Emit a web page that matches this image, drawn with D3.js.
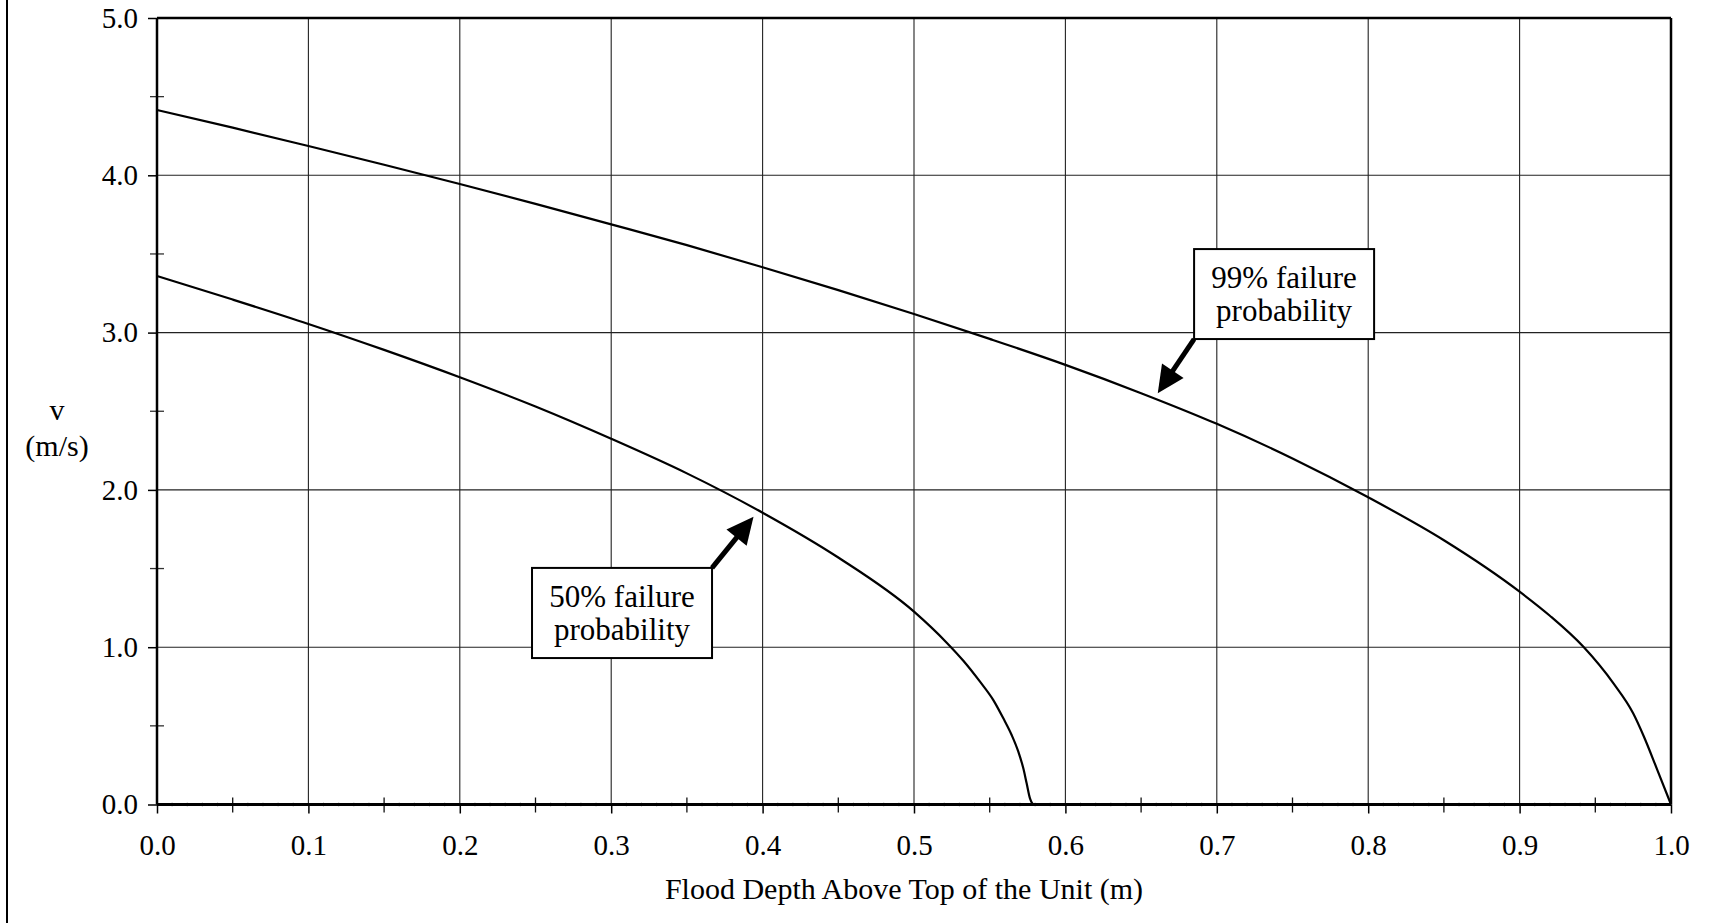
<!DOCTYPE html>
<html>
<head>
<meta charset="utf-8">
<script src="https://cdn.jsdelivr.net/npm/d3@7"></script>
<style>
  body { margin: 0; background: #fff; }
  svg { display: block; font-family: "Liberation Serif", "Times New Roman", serif; }
</style>
</head>
<body>
<svg width="1716" height="923"></svg>
<script>
// 99% failure probability curve
const depth99 = [0, 0.05, 0.1, 0.15, 0.2, 0.25, 0.3, 0.35, 0.4, 0.45, 0.5, 0.55, 0.6, 0.65, 0.7, 0.75, 0.8, 0.85, 0.9, 0.92, 0.942, 0.962, 0.975, 0.982, 0.991, 1.0];
const vel99 = [4.415, 4.303, 4.186, 4.067, 3.945, 3.818, 3.688, 3.556, 3.415, 3.27, 3.118, 2.96, 2.795, 2.615, 2.42, 2.20, 1.953, 1.68, 1.353, 1.20, 1.004, 0.77, 0.58, 0.434, 0.219, 0];

// 50% failure probability curve
const depth50 = [0, 0.05, 0.1, 0.15, 0.2, 0.25, 0.3, 0.35, 0.4, 0.45, 0.5, 0.5216, 0.5326, 0.5436, 0.5524, 0.559, 0.5645, 0.5689, 0.5722, 0.5744, 0.5766, 0.5793, 0.587];
const vel50 = [3.36, 3.21, 3.055, 2.89, 2.716, 2.53, 2.325, 2.105, 1.855, 1.57, 1.226, 1.029, 0.914, 0.781, 0.664, 0.548, 0.442, 0.336, 0.23, 0.135, 0.039, 0, 0];

const xTicks = [0, 0.1, 0.2, 0.3, 0.4, 0.5, 0.6, 0.7, 0.8, 0.9, 1.0];
const yTicks = [0, 1, 2, 3, 4, 5];

const annotations = [
    { lines: ['50% failure', 'probability'], box: [0.2477, 1.504, 0.3666, 0.931], tip: [0.394, 1.83] },
    { lines: ['99% failure', 'probability'], box: [0.6850, 3.531, 0.8039, 2.959], tip: [0.661, 2.615] }
];

const svg = d3.select("svg");
const width = +svg.attr("width");
const height = +svg.attr("height");

const margin = { top: 18, right: 45, bottom: 118.5, left: 157 };
const innerWidth = width - margin.left - margin.right;
const innerHeight = height - margin.top - margin.bottom;

const g = svg.append('g')
    .attr('transform', `translate(${margin.left},${margin.top})`);

const xScale = d3.scaleLinear().domain([0, 1]).range([0, innerWidth]);
const yScale = d3.scaleLinear().domain([0, 5]).range([innerHeight, 0]);

// outer frame line on the left
svg.append('line')
    .attr('x1', 7).attr('x2', 7)
    .attr('y1', 0).attr('y2', height)
    .attr('stroke', '#000').attr('stroke-width', 2);

// gridlines
g.selectAll('.vgrid')
    .data(xTicks.slice(1, -1))
    .enter().append('line')
    .attr('x1', d => xScale(d)).attr('x2', d => xScale(d))
    .attr('y1', 0).attr('y2', innerHeight)
    .attr('stroke', '#222').attr('stroke-width', 1.1);

g.selectAll('.hgrid')
    .data(yTicks.slice(1, -1))
    .enter().append('line')
    .attr('x1', 0).attr('x2', innerWidth)
    .attr('y1', d => yScale(d)).attr('y2', d => yScale(d))
    .attr('stroke', '#222').attr('stroke-width', 1.1);

// tiny ticks every 0.01 on x axis
g.selectAll('.tiny')
    .data(d3.range(1, 100).filter(i => i % 5 !== 0).map(i => i / 100))
    .enter().append('line')
    .attr('x1', d => xScale(d)).attr('x2', d => xScale(d))
    .attr('y1', innerHeight - 2).attr('y2', innerHeight + 2)
    .attr('stroke', '#aaa').attr('stroke-width', 1);

// minor ticks
g.selectAll('.xminor')
    .data(d3.range(0.05, 1, 0.1))
    .enter().append('line')
    .attr('x1', d => xScale(d)).attr('x2', d => xScale(d))
    .attr('y1', innerHeight - 7).attr('y2', innerHeight + 8)
    .attr('stroke', '#111').attr('stroke-width', 1.3);

g.selectAll('.yminor')
    .data(d3.range(0.5, 5, 1))
    .enter().append('line')
    .attr('x1', -7).attr('x2', 7)
    .attr('y1', d => yScale(d)).attr('y2', d => yScale(d))
    .attr('stroke', '#333').attr('stroke-width', 1.3);

// axes
const xAxis = d3.axisBottom(xScale)
    .tickValues(xTicks)
    .tickFormat(d3.format('.1f'))
    .tickSize(9)
    .tickPadding(21);

const yAxis = d3.axisLeft(yScale)
    .tickValues(yTicks)
    .tickFormat(d3.format('.1f'))
    .tickSize(9)
    .tickPadding(10);

const xg = g.append('g')
    .attr('class', 'x-axis')
    .attr('transform', `translate(0,${innerHeight})`)
    .call(xAxis);

const yg = g.append('g')
    .attr('class', 'y-axis')
    .call(yAxis);

[xg, yg].forEach(a => {
    a.attr('font-size', 29).attr('font-family', '"Liberation Serif", serif');
    a.select('.domain').remove();
    a.selectAll('.tick line').attr('stroke', '#000').attr('stroke-width', 1.5);
    a.selectAll('.tick text').attr('fill', '#000');
});

// frame: top and right borders, then axis lines
g.append('line')
    .attr('x1', 0).attr('x2', innerWidth).attr('y1', 0).attr('y2', 0)
    .attr('stroke', '#000').attr('stroke-width', 2.5);
g.append('line')
    .attr('x1', innerWidth).attr('x2', innerWidth).attr('y1', 0).attr('y2', innerHeight)
    .attr('stroke', '#000').attr('stroke-width', 2.5);
g.append('line')
    .attr('x1', 0).attr('x2', 0).attr('y1', 0).attr('y2', innerHeight)
    .attr('stroke', '#000').attr('stroke-width', 2.5);
g.append('line')
    .attr('x1', 0).attr('x2', innerWidth).attr('y1', innerHeight).attr('y2', innerHeight)
    .attr('stroke', '#000').attr('stroke-width', 3);

// curves
const line = d3.line()
    .x(d => xScale(d[0]))
    .y(d => yScale(d[1]))
    .curve(d3.curveMonotoneX);

[[depth99, vel99], [depth50, vel50]].forEach(([xs, ys]) => {
    g.append('path')
        .datum(xs.map((x, i) => [x, ys[i]]))
        .attr('fill', 'none')
        .attr('stroke', '#000')
        .attr('stroke-width', 2.2)
        .attr('d', line);
});

// annotations with arrows
annotations.forEach(a => {
    const [bx0, by0, bx1, by1] = a.box;
    const x0 = xScale(bx0), y0 = yScale(by0), x1 = xScale(bx1), y1 = yScale(by1);
    const tx = xScale(a.tip[0]), ty = yScale(a.tip[1]);
    // start corner of the box nearest the tip
    const sx = tx > x1 ? x1 : x0;
    const sy = ty < y0 ? y0 : y1;
    const dx = tx - sx, dy = ty - sy;
    const len = Math.hypot(dx, dy);
    const ux = dx / len, uy = dy / len;
    const headLen = 27, headW = 26;
    const bxc = tx - ux * headLen, byc = ty - uy * headLen;

    g.append('line')
        .attr('x1', sx).attr('y1', sy)
        .attr('x2', bxc + ux * 2).attr('y2', byc + uy * 2)
        .attr('stroke', '#000').attr('stroke-width', 5);
    g.append('path')
        .attr('d', `M${tx},${ty}L${bxc - uy * headW / 2},${byc + ux * headW / 2}L${bxc + uy * headW / 2},${byc - ux * headW / 2}Z`)
        .attr('fill', '#000');

    g.append('rect')
        .attr('x', x0).attr('y', y0)
        .attr('width', x1 - x0).attr('height', y1 - y0)
        .attr('fill', '#fff')
        .attr('stroke', '#000').attr('stroke-width', 2);

    const text = g.append('text')
        .attr('text-anchor', 'middle')
        .attr('font-size', 31)
        .attr('fill', '#000');
    a.lines.forEach((t, i) => {
        text.append('tspan')
            .attr('x', (x0 + x1) / 2)
            .attr('y', y0 + 39 + i * 33)
            .text(t);
    });
});

// axis titles
g.append('text')
    .attr('class', 'axis-label')
    .attr('x', innerWidth / 2 - 10)
    .attr('y', innerHeight + 94)
    .attr('text-anchor', 'middle')
    .attr('font-size', 30)
    .attr('fill', '#000')
    .text('Flood Depth Above Top of the Unit (m)');

const yLabel = svg.append('text')
    .attr('class', 'axis-label')
    .attr('text-anchor', 'middle')
    .attr('font-size', 30)
    .attr('fill', '#000');
yLabel.append('tspan').attr('x', 57).attr('y', 420).text('v');
yLabel.append('tspan').attr('x', 57).attr('y', 456).text('(m/s)');
</script>
</body>
</html>
